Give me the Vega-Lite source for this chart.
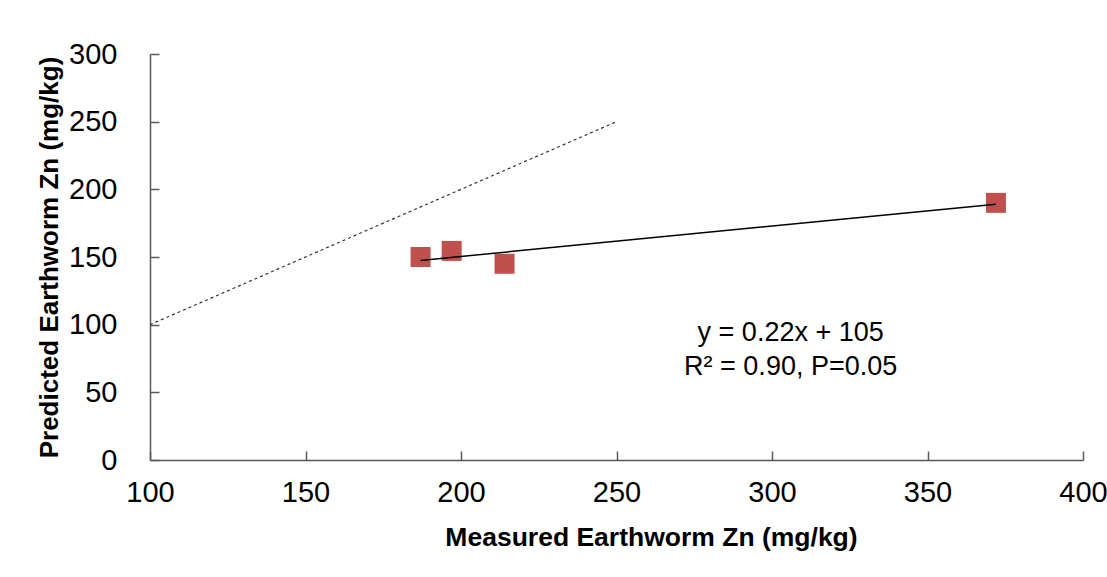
{
  "$schema": "https://vega.github.io/schema/vega-lite/v6.json",
  "width": 933,
  "height": 406,
  "autosize": "none",
  "padding": {"left": 150, "top": 54, "right": 24, "bottom": 117},
  "background": "white",
  "config": {
    "view": {"stroke": null},
    "font": "Liberation Sans"
  },
  "datasets": {
    "points": [
      {"measured": 187, "predicted": 150},
      {"measured": 197, "predicted": 154.5},
      {"measured": 214, "predicted": 145},
      {"measured": 372, "predicted": 190}
    ],
    "fit": [
      {"measured": 187, "predicted": 147.5},
      {"measured": 372, "predicted": 189}
    ],
    "oneToOne": [
      {"measured": 100, "predicted": 100},
      {"measured": 250, "predicted": 250}
    ],
    "label": [
      {"measured": 306, "predicted": 94, "text": "y = 0.22x + 105"},
      {"measured": 306, "predicted": 69, "text": "R² = 0.90, P=0.05"}
    ]
  },
  "layer": [
    {
      "data": {"name": "oneToOne"},
      "mark": {"type": "line", "color": "#333333", "strokeWidth": 1.2, "strokeDash": [3, 3]},
      "encoding": {
        "x": {"field": "measured", "type": "quantitative",
          "scale": {"domain": [100, 400], "nice": false},
          "axis": {
            "title": "Measured Earthworm Zn (mg/kg)",
            "values": [100, 150, 200, 250, 300, 350, 400],
            "grid": false,
            "labelFlush": false,
            "domainColor": "#595959", "domainWidth": 1.5,
            "tickColor": "#595959", "tickWidth": 1.5, "tickSize": -9,
            "labelFontSize": 29, "labelColor": "#000000", "labelPadding": 27,
            "titleFontSize": 26.5, "titleFontWeight": "bold", "titleColor": "#000000",
            "titlePadding": 17, "titleX": 501
          }
        },
        "y": {"field": "predicted", "type": "quantitative",
          "scale": {"domain": [0, 300], "nice": false},
          "axis": {
            "title": "Predicted Earthworm Zn (mg/kg)",
            "values": [0, 50, 100, 150, 200, 250, 300],
            "grid": false,
            "labelFlush": false,
            "domainColor": "#595959", "domainWidth": 1.5,
            "tickColor": "#595959", "tickWidth": 1.5, "tickSize": -9,
            "labelFontSize": 29, "labelColor": "#000000", "labelPadding": 42,
            "titleFontSize": 26, "titleFontWeight": "bold", "titleColor": "#000000",
            "titlePadding": 6
          }
        }
      }
    },
    {
      "data": {"name": "points"},
      "mark": {"type": "point", "shape": "square", "filled": true, "size": 400, "color": "#C0504D", "opacity": 1},
      "encoding": {
        "x": {"field": "measured", "type": "quantitative"},
        "y": {"field": "predicted", "type": "quantitative"}
      }
    },
    {
      "data": {"name": "fit"},
      "mark": {"type": "line", "color": "#000000", "strokeWidth": 1.5},
      "encoding": {
        "x": {"field": "measured", "type": "quantitative"},
        "y": {"field": "predicted", "type": "quantitative"}
      }
    },
    {
      "data": {"name": "label"},
      "mark": {"type": "text", "fontSize": 27, "color": "#000000", "align": "center", "baseline": "middle"},
      "encoding": {
        "x": {"field": "measured", "type": "quantitative"},
        "y": {"field": "predicted", "type": "quantitative"},
        "text": {"field": "text"}
      }
    }
  ]
}
